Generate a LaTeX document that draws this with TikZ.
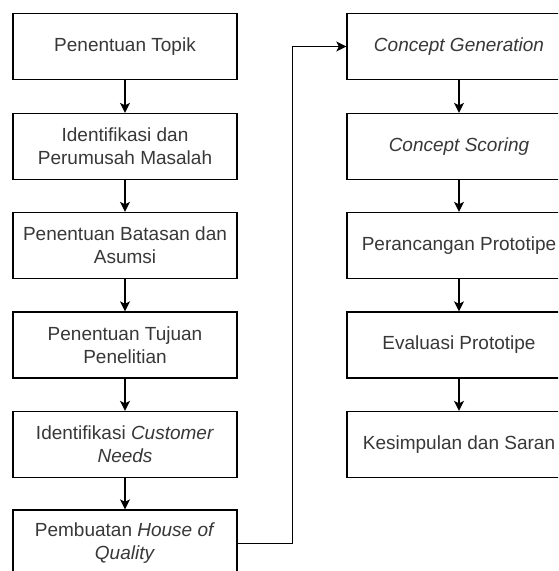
\documentclass[tikz,border=0pt]{standalone}
\usepackage{fontspec}
\setmainfont{Liberation Sans}
\usetikzlibrary{arrows.meta}
\begin{document}
\begin{tikzpicture}[x=1pt,y=1pt,
  stepbox/.style={draw=black, line width=1.3pt, minimum width=224pt, minimum height=66pt,
    align=center, inner sep=0pt, text=black!78, font=\fontsize{19}{23}\selectfont},
  arr/.style={draw=black, line width=1.3pt, -{Stealth[length=10pt,width=10pt,inset=2.5pt]}}]
\clip (0,0) rectangle (558,571);
\fill[white] (0,0) rectangle (558,571);
\node[stepbox] (b1) at (125,524.5) {Penentuan Topik};
\node[stepbox] (b2) at (125,424.5) {Identifikasi dan\\Perumusah Masalah};
\node[stepbox] (b3) at (125,325.5) {Penentuan Batasan dan\\Asumsi};
\node[stepbox] (b4) at (125,226) {Penentuan Tujuan\\Penelitian};
\node[stepbox] (b5) at (125,126.5) {Identifikasi \textit{Customer}\\\textit{Needs}};
\node[stepbox, minimum height=67pt] (b6) at (125,27.5) {Pembuatan \textit{House of}\\\textit{Quality}};
\node[stepbox] (r1) at (459,524.5) {\textit{Concept Generation}};
\node[stepbox] (r2) at (459,424.5) {\textit{Concept Scoring}};
\node[stepbox] (r3) at (459,325.5) {Perancangan Prototipe};
\node[stepbox] (r4) at (459,226) {Evaluasi Prototipe};
\node[stepbox] (r5) at (459,126.5) {Kesimpulan dan Saran};
\draw[arr] (b1) -- (b2);
\draw[arr] (b2) -- (b3);
\draw[arr] (b3) -- (b4);
\draw[arr] (b4) -- (b5);
\draw[arr] (b5) -- (b6);
\draw[arr] (r1) -- (r2);
\draw[arr] (r2) -- (r3);
\draw[arr] (r3) -- (r4);
\draw[arr] (r4) -- (r5);
\draw[arr] (b6.east) -- ++(55,0) |- (r1.west);
\end{tikzpicture}
\end{document}
